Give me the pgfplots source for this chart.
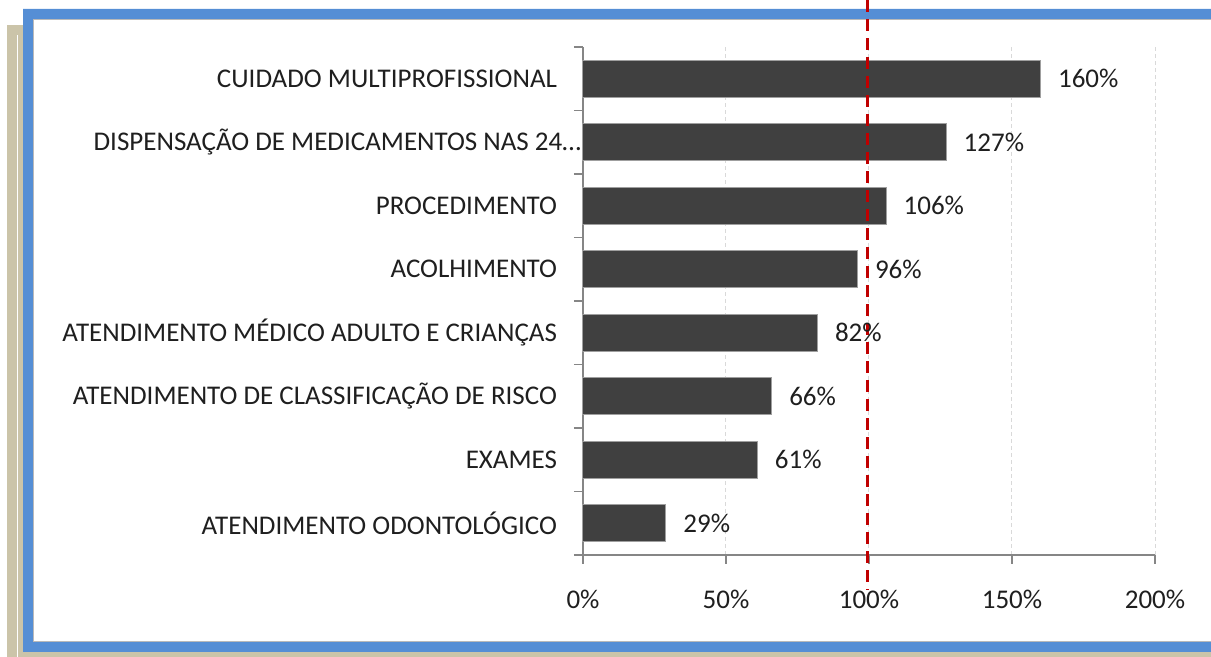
\documentclass[border=0pt]{standalone}
\usepackage{fontspec}
\setmainfont{Carlito}
\usepackage{pgfplots}
\pgfplotsset{compat=1.18}
\definecolor{beige}{HTML}{CBC4A9}
\definecolor{frameblue}{HTML}{558ED5}
\definecolor{bardark}{HTML}{404040}
\definecolor{reddash}{HTML}{C00000}
\definecolor{gridc}{HTML}{D9D9D9}
\definecolor{axisc}{HTML}{868686}
\definecolor{txt}{HTML}{1F1F1F}
\begin{document}
\fontsize{13.5pt}{16pt}\selectfont
\begin{tikzpicture}
\path[use as bounding box] (0,0) rectangle (605.5pt,328.5pt);
\begin{scope}[x=0.5pt,y=0.5pt]
\clip (0,0) rectangle (1211,657);
% beige shadow frame
\fill[beige] (7,-5) rectangle (1230,632);
\draw[white, line width=0.5pt] (17.5,-5) -- (17.5,622);
% blue frame
\fill[frameblue, even odd rule] (23,5) rectangle (1230,648) (33,15) rectangle (1220,638);
\fill[white] (33,15) rectangle (1220,638);
\draw[gray!55, line width=0.6pt] (1225,15.5) -- (33.8,15.5) -- (33.8,637.5) -- (1225,637.5);
\end{scope}
\begin{axis}[
  at={(291.5pt,51pt)}, anchor=south west,
  scale only axis, width=286pt, height=254pt,
  xmin=0, xmax=200, ymin=-0.5, ymax=7.5,
  bar width=18.5pt,
  axis lines=left,
  axis line style={-, draw=axisc, line width=0.6pt},
  clip=false,
  xtick={0,50,100,150,200},
  xticklabels={0\%,50\%,100\%,150\%,200\%},
  ytick={0,1,2,3,4,5,6,7},
  yticklabels={ATENDIMENTO ODONTOLÓGICO, EXAMES, ATENDIMENTO DE CLASSIFICAÇÃO DE RISCO, ATENDIMENTO MÉDICO ADULTO E CRIANÇAS, ACOLHIMENTO, PROCEDIMENTO, DISPENSAÇÃO DE MEDICAMENTOS NAS 24…\hspace*{-12pt}, CUIDADO MULTIPROFISSIONAL},
  minor ytick={-0.5,0.5,1.5,2.5,3.5,4.5,5.5,6.5,7.5},
  major y tick style={draw=none},
  tick align=outside,
  major tick length=4.5pt,
  minor tick length=4.5pt,
  tick style={axisc, line width=0.6pt},
  xmajorgrids,
  major x grid style={gridc, dash pattern=on 2pt off 1.5pt, line width=0.5pt},
  yticklabel style={anchor=east, xshift=-3.8pt, text=txt, font=\fontsize{13.5pt}{16pt}\selectfont},
  xticklabel style={yshift=-8.5pt, text=txt, font=\fontsize{13.5pt}{16pt}\selectfont},
  /pgf/number format/assume math mode=true,
]
\addplot[xbar, fill=bardark, draw=gray!75, line width=0.5pt,
  nodes near coords={\pgfmathprintnumber{\pgfplotspointmeta}\%},
  nodes near coords style={anchor=west, xshift=4pt, text=txt, font=\fontsize{13.5pt}{16pt}\selectfont}]
  coordinates {(29,0) (61,1) (66,2) (82,3) (96,4) (106,5) (127,6) (160,7)};
\addplot[reddash, line width=1.5pt, dash pattern=on 6pt off 3.5pt, forget plot]
  coordinates {(99.5,8.24) (99.5,-1.05)};
\end{axis}
\end{tikzpicture}
\end{document}
